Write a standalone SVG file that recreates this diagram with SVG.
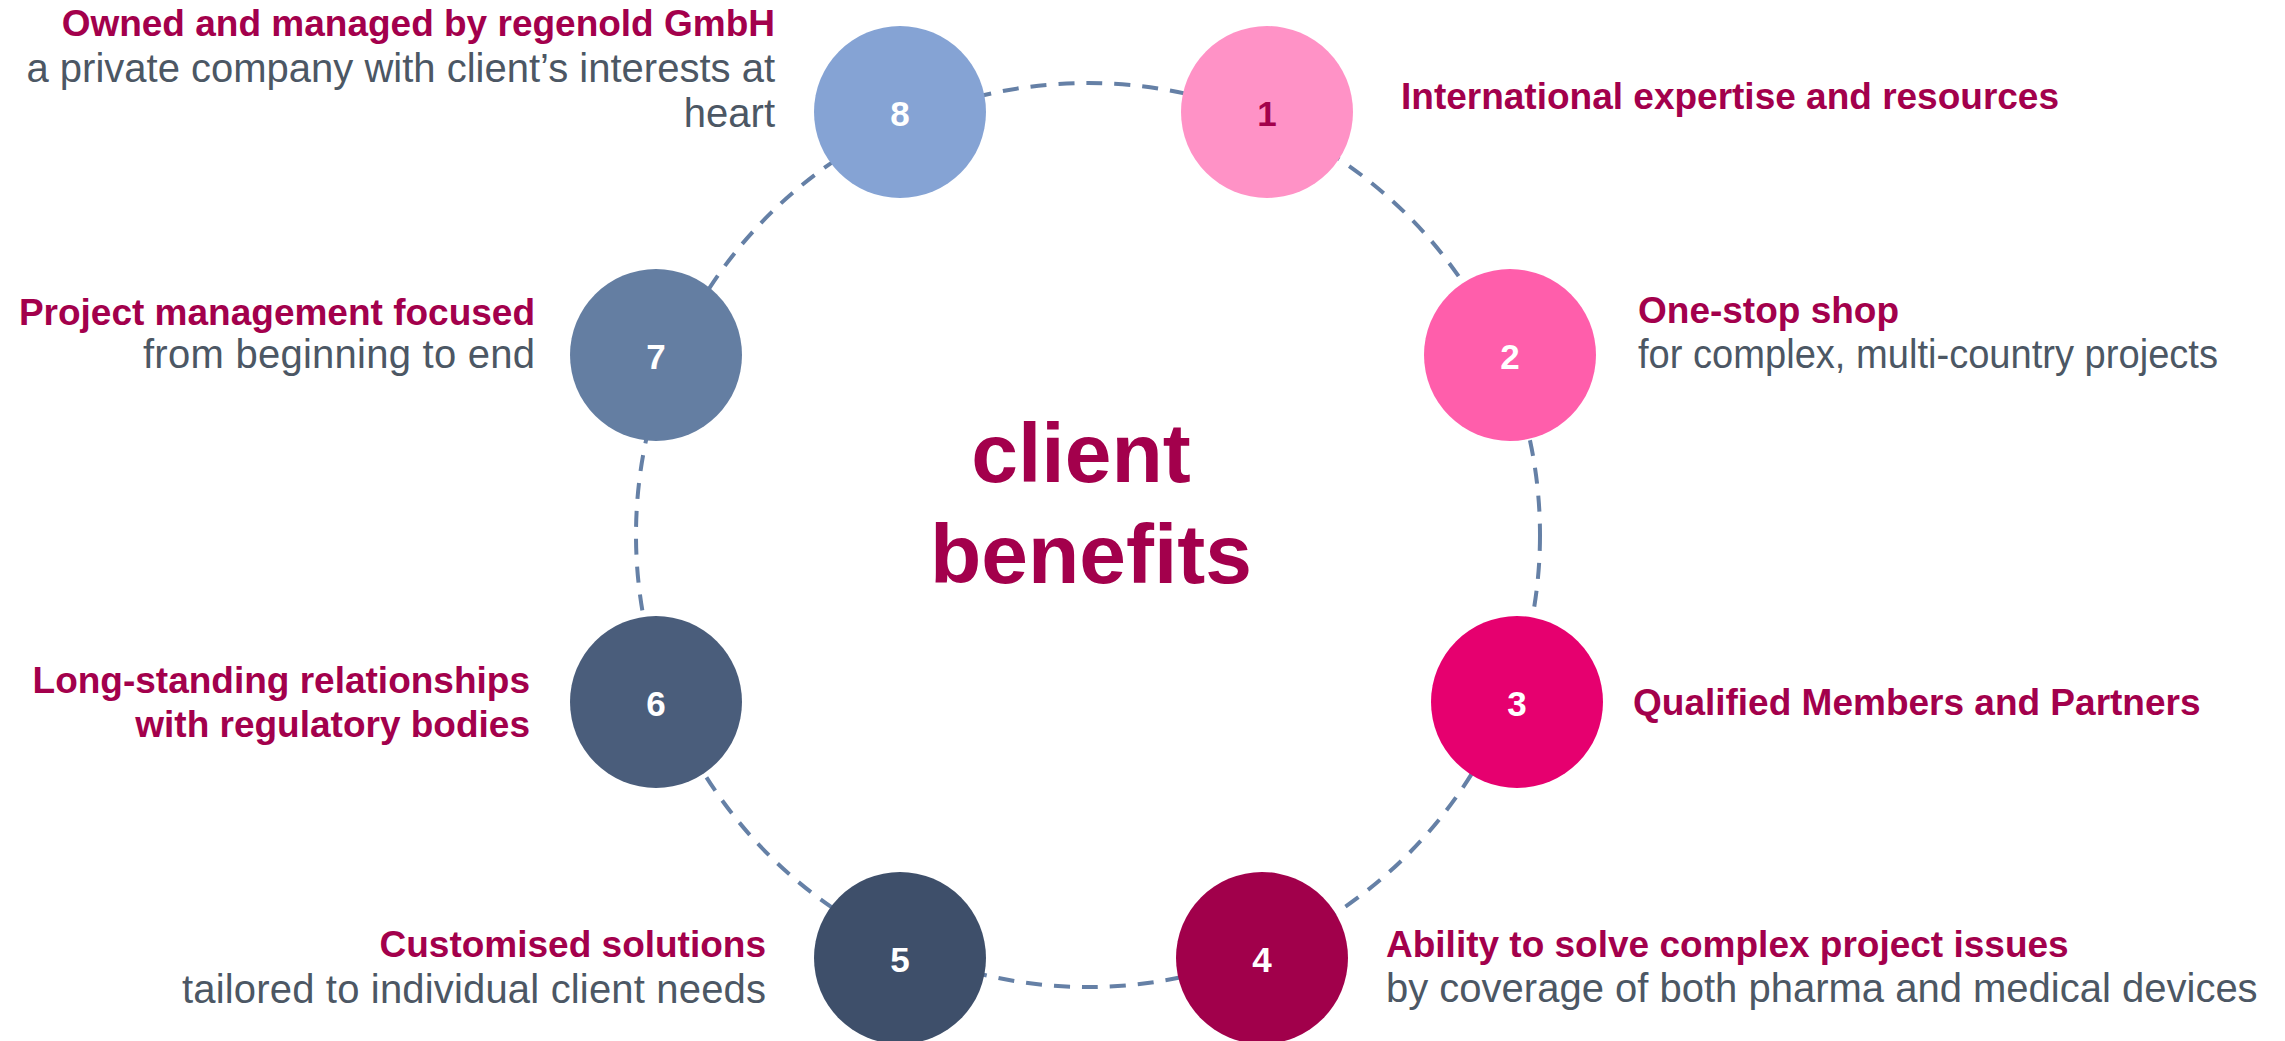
<svg xmlns="http://www.w3.org/2000/svg" width="2285" height="1041" viewBox="0 0 2285 1041">
<style>
.t{font-family:"Liberation Sans",Arial,sans-serif;font-weight:bold;font-size:37px;fill:#A3004C}
.s{font-family:"Liberation Sans",Arial,sans-serif;font-size:40px;fill:#4C5764}
.n{font-family:"Liberation Sans",Arial,sans-serif;font-weight:bold;font-size:35px;fill:#FFFFFF;text-anchor:middle}
.c{font-family:"Liberation Sans",Arial,sans-serif;font-weight:bold;font-size:84px;fill:#A3004C;text-anchor:middle}
.e{text-anchor:end}
.ring{fill:none;stroke:#6580A6;stroke-width:4;stroke-dasharray:16 12}
</style>
<rect width="2285" height="1041" fill="#FFFFFF"/>
<g id="connectors">
<circle class="ring" cx="1088" cy="535" r="452"/>
</g>
<g id="center">
<text class="c" x="1081" y="482">client</text>
<text class="c" x="1091" y="583" font-size="85">benefits</text>
</g>
<g id="node1">
<circle cx="1267" cy="112" r="86" fill="#FF92C6"/>
<text class="n" x="1267" y="126" style="fill:#A3004C">1</text>
<text class="t" x="1401" y="109">International expertise and resources</text>
</g>
<g id="node2">
<circle cx="1510" cy="355" r="86" fill="#FF5EAB"/>
<text class="n" x="1510" y="369">2</text>
<text class="t" x="1638" y="323">One-stop shop</text>
<text class="s" x="1638" y="368" textLength="580" lengthAdjust="spacingAndGlyphs">for complex, multi-country projects</text>
</g>
<g id="node3">
<circle cx="1517" cy="702" r="86" fill="#E6006F"/>
<text class="n" x="1517" y="716">3</text>
<text class="t" x="1633" y="715">Qualified Members and Partners</text>
</g>
<g id="node4">
<circle cx="1262" cy="958" r="86" fill="#A1004B"/>
<text class="n" x="1262" y="972">4</text>
<text class="t" x="1386" y="957">Ability to solve complex project issues</text>
<text class="s" x="1386" y="1002">by coverage of both pharma and medical devices</text>
</g>
<g id="node5">
<circle cx="900" cy="958" r="86" fill="#3E4F6A"/>
<text class="n" x="900" y="972">5</text>
<text class="t e" x="766" y="957">Customised solutions</text>
<text class="s e" x="766" y="1003" textLength="584">tailored to individual client needs</text>
</g>
<g id="node6">
<circle cx="656" cy="702" r="86" fill="#4A5D7B"/>
<text class="n" x="656" y="716">6</text>
<text class="t e" x="530" y="693">Long-standing relationships</text>
<text class="t e" x="530" y="737">with regulatory bodies</text>
</g>
<g id="node7">
<circle cx="656" cy="355" r="86" fill="#647EA2"/>
<text class="n" x="656" y="369">7</text>
<text class="t e" x="535" y="325">Project management focused</text>
<text class="s e" x="535" y="368" textLength="392">from beginning to end</text>
</g>
<g id="node8">
<circle cx="900" cy="112" r="86" fill="#85A3D4"/>
<text class="n" x="900" y="126">8</text>
<text class="t e" x="775" y="36">Owned and managed by regenold GmbH</text>
<text class="s e" x="775" y="82">a private company with client’s interests at</text>
<text class="s e" x="775" y="127">heart</text>
</g>
</svg>
